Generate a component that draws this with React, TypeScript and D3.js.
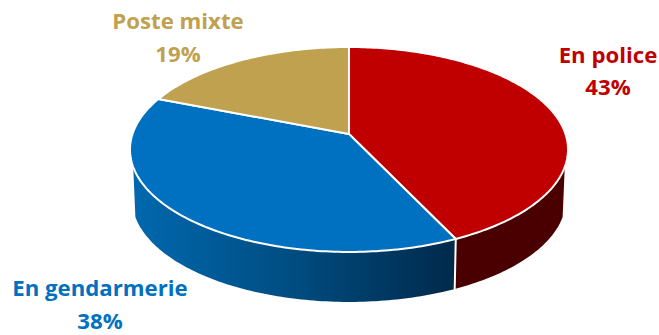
import React from "react";
import * as d3 from "d3";

// Affectation shares, clockwise from twelve o'clock
const categories = ["En police", "En gendarmerie", "Poste mixte"];
const shares = [43, 38, 19];
const topColors = ["#c00000", "#0070c0", "#bfa14f"];
const labelColors = ["#c00000", "#0070c0", "#bfa14f"];

const WIDTH = 659;
const HEIGHT = 335;
const CX = 349;
const RADIUS = 216.5;
const APEX_Y = 134;
const TILT_A = 79.9;
const PERSPECTIVE = -0.151;
const DEPTH = 50;
const BASE_SCALE = 0.99;

const labelBoxes = [
  { x: 608, y: [63, 95] },
  { x: 100, y: [296, 329] },
  { x: 178, y: [29, 62] },
];

// Projects a clockwise angle on the disc rim to screen space with a mild perspective.
function rim(angle: number, r = 1): [number, number] {
  const u = Math.sin(angle) * r;
  const v = -Math.cos(angle) * r;
  const w = 1 + PERSPECTIVE * v;
  return [CX + (RADIUS * u) / w, (TILT_A * v + APEX_Y) / w];
}

function base(angle: number): [number, number] {
  const [x, y] = rim(angle);
  return [CX + (x - CX) * BASE_SCALE, y + DEPTH];
}

const line = d3.line<[number, number]>().x((d) => d[0]).y((d) => d[1]);

function arcSamples(a0: number, a1: number, pick: (a: number) => [number, number]) {
  const n = Math.max(2, Math.ceil(Math.abs(a1 - a0) * 60));
  const t = d3.scaleLinear().domain([0, n]).range([a0, a1]);
  return d3.range(n + 1).map((i) => pick(t(i)));
}

const arcs = d3.pie<number>().sort(null).startAngle(0).endAngle(2 * Math.PI)(shares);

// Part of the rim that faces the viewer
const SIDE_START = (108.3 * Math.PI) / 180;
const SIDE_END = (251.7 * Math.PI) / 180;

function sidePath(a0: number, a1: number) {
  const pts = [...arcSamples(a0, a1, rim), ...arcSamples(a1, a0, base)];
  return line(pts) + "Z";
}

function slicePath(a0: number, a1: number) {
  const pts: [number, number][] = [[CX, APEX_Y], ...arcSamples(a0, a1, rim)];
  return line(pts) + "Z";
}

export default function App() {
  const split = arcs[0].endAngle;
  return (
    <svg
      width={WIDTH}
      height={HEIGHT}
      viewBox={`0 0 ${WIDTH} ${HEIGHT}`}
      style={{ position: "absolute", left: 0, top: 0, background: "#fff" }}
    >
      <defs>
        <linearGradient id="blueSide" gradientUnits="userSpaceOnUse" x1={133} x2={458} y1={0} y2={0}>
          <stop offset="0" stopColor="#0068ae" />
          <stop offset="0.45" stopColor="#004f85" />
          <stop offset="1" stopColor="#00294a" />
        </linearGradient>
      </defs>
      <path d={sidePath(SIDE_START, split)} fill="#4a0000" />
      <path d={sidePath(split, SIDE_END)} fill="url(#blueSide)" />
      <path d={line([rim(split), base(split)]) ?? ""} stroke="#fff" strokeWidth={2} fill="none" />
      {arcs.map((a, i) => (
        <path
          key={categories[i]}
          d={slicePath(a.startAngle, a.endAngle)}
          fill={topColors[i]}
          stroke="#fff"
          strokeWidth={2}
          strokeLinejoin="round"
        />
      ))}
      {categories.map((c, i) => (
        <text
          key={c}
          textAnchor="middle"
          fill={labelColors[i]}
          fontFamily="'Open Sans', Lato, sans-serif"
          fontWeight={700}
          fontSize={22.2}
        >
          <tspan x={labelBoxes[i].x} y={labelBoxes[i].y[0]}>{c}</tspan>
          <tspan x={labelBoxes[i].x} y={labelBoxes[i].y[1]}>{`${shares[i]}%`}</tspan>
        </text>
      ))}
    </svg>
  );
}
